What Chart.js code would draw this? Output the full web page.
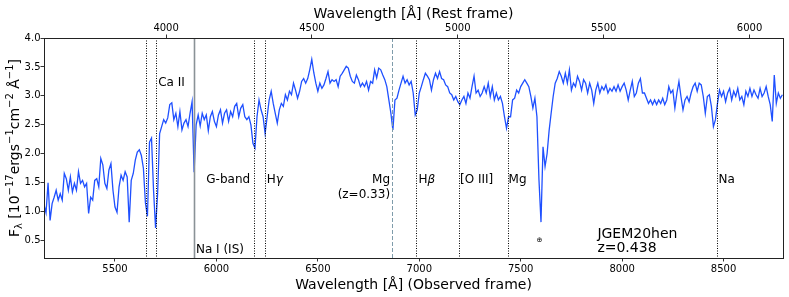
<!DOCTYPE html>
<html><head><meta charset="utf-8">
<script src="https://cdn.jsdelivr.net/npm/chart.js@4.4.0/dist/chart.umd.min.js"></script>
<style>html,body{margin:0;padding:0;background:#fff}</style>
</head><body>
<canvas id="c" width="789" height="297"></canvas>
<script>
const redshift = 0.438;
const xMin = 5150, xMax = 8793, yMin = 0.2, yMax = 4.0;

const wavelength = [
5150,5160,5170,5180,5190,5200,5210,5220,5230,5240,
5250,5260,5270,5280,5290,5300,5310,5320,5330,5340,
5350,5360,5370,5380,5390,5400,5410,5420,5430,5440,
5450,5460,5470,5480,5490,5500,5510,5520,5530,5540,
5550,5560,5570,5580,5590,5600,5610,5620,5630,5640,
5650,5660,5670,5680,5690,5700,5710,5720,5730,5740,
5750,5760,5770,5780,5790,5800,5810,5820,5830,5840,
5850,5860,5870,5880,5890,5900,5910,5920,5930,5940,
5950,5960,5970,5980,5990,6000,6010,6020,6030,6040,
6050,6060,6070,6080,6090,6100,6110,6120,6130,6140,
6150,6160,6170,6180,6190,6200,6210,6220,6230,6240,
6250,6260,6270,6280,6290,6300,6310,6320,6330,6340,
6350,6360,6370,6380,6390,6400,6410,6420,6430,6440,
6450,6460,6470,6480,6490,6500,6510,6520,6530,6540,
6550,6560,6570,6580,6590,6600,6610,6620,6630,6640,
6650,6660,6670,6680,6690,6700,6710,6720,6730,6740,
6750,6760,6770,6780,6790,6800,6810,6820,6830,6840,
6850,6860,6870,6880,6890,6900,6910,6920,6930,6940,
6950,6960,6970,6980,6990,7000,7010,7020,7030,7040,
7050,7060,7070,7080,7090,7100,7110,7120,7130,7140,
7150,7160,7170,7180,7190,7200,7210,7220,7230,7240,
7250,7260,7270,7280,7290,7300,7310,7320,7330,7340,
7350,7360,7370,7380,7390,7400,7410,7420,7430,7440,
7450,7460,7470,7480,7490,7500,7510,7520,7530,7540,
7550,7560,7570,7580,7590,7600,7610,7620,7630,7640,
7650,7660,7670,7680,7690,7700,7710,7720,7730,7740,
7750,7760,7770,7780,7790,7800,7810,7820,7830,7840,
7850,7860,7870,7880,7890,7900,7910,7920,7930,7940,
7950,7960,7970,7980,7990,8000,8010,8020,8030,8040,
8050,8060,8070,8080,8090,8100,8110,8120,8130,8140,
8150,8160,8170,8180,8190,8200,8210,8220,8230,8240,
8250,8260,8270,8280,8290,8300,8310,8320,8330,8340,
8350,8360,8370,8380,8390,8400,8410,8420,8430,8440,
8450,8460,8470,8480,8490,8500,8510,8520,8530,8540,
8550,8560,8570,8580,8590,8600,8610,8620,8630,8640,
8650,8660,8670,8680,8690,8700,8710,8720,8730,8740,
8750,8760,8770,8780,8790
];

const flux = [
1.12,0.98,1.50,0.85,1.14,1.25,1.37,1.20,1.31,1.20,
1.66,1.57,1.37,1.60,1.34,1.49,1.37,1.69,1.49,1.54,
1.43,1.49,0.97,1.25,1.20,1.54,1.57,1.43,1.92,1.81,
1.49,1.40,1.72,1.83,1.37,1.08,0.99,1.43,1.63,1.54,
1.69,1.60,0.82,1.54,1.66,1.89,2.03,2.07,1.97,1.75,
1.15,0.92,2.20,2.27,1.37,0.72,1.30,2.35,2.47,2.59,
2.53,2.62,2.85,2.88,2.59,2.70,2.47,2.73,2.41,2.53,
2.59,2.47,2.70,2.90,1.68,2.50,2.67,2.48,2.70,2.59,
2.67,2.40,2.64,2.73,2.56,2.47,2.67,2.76,2.53,2.70,
2.76,2.56,2.73,2.64,2.82,2.87,2.64,2.79,2.85,2.64,
2.59,2.64,2.50,2.18,2.10,2.64,2.93,2.76,2.64,2.35,
2.64,2.93,3.08,2.87,2.70,2.53,2.76,2.87,2.82,3.02,
2.93,3.08,3.02,3.22,3.10,2.96,3.08,3.25,3.30,3.22,
3.30,3.45,3.63,3.40,3.22,3.08,3.22,3.13,3.19,3.30,
3.42,3.22,3.28,3.25,3.28,3.16,3.34,3.39,3.45,3.51,
3.48,3.34,3.25,3.22,3.36,3.28,3.16,3.22,3.16,3.25,
3.10,3.25,3.22,3.45,3.31,3.48,3.45,3.36,3.28,3.16,
2.93,2.70,2.41,2.93,2.96,3.10,3.22,3.34,3.22,3.28,
3.19,3.25,3.05,2.67,2.76,3.05,3.16,3.28,3.39,3.34,
3.28,3.10,3.28,3.39,3.30,3.42,3.30,3.28,3.19,3.16,
3.05,3.02,2.93,2.99,2.90,2.85,2.93,2.99,2.87,3.05,
2.96,3.16,3.34,3.05,3.10,2.99,3.05,3.16,3.05,3.22,
2.99,3.16,2.93,3.05,2.93,2.99,2.87,2.64,2.44,2.64,
2.64,2.93,2.96,3.10,3.05,3.16,3.22,3.28,3.22,3.16,
2.99,2.79,2.96,2.64,1.55,0.82,2.12,1.78,2.00,2.40,
2.70,2.99,3.22,3.30,3.42,3.34,3.22,3.39,3.22,3.45,
3.10,3.22,3.16,3.34,3.25,3.10,3.28,3.22,3.05,3.22,
3.10,2.87,3.10,3.22,3.05,3.16,3.10,3.19,3.05,3.13,
3.08,3.16,3.08,3.19,3.08,3.16,3.22,3.10,2.93,3.10,
3.25,2.99,3.05,3.22,3.30,3.05,3.05,2.96,2.87,2.93,
2.85,2.93,2.85,2.93,2.87,2.96,2.85,2.93,3.16,3.05,
3.10,2.79,3.05,3.25,2.99,2.76,2.93,2.99,2.90,3.05,
3.16,3.22,3.08,3.22,3.19,2.99,2.70,2.99,3.02,2.82,
2.47,2.59,2.87,3.10,2.99,3.08,2.90,3.05,3.13,2.93,
3.08,2.99,3.13,2.93,2.99,2.85,3.08,2.99,3.13,2.99,
3.10,3.02,2.96,3.13,2.99,3.05,3.16,2.99,2.85,2.56,
3.36,2.87,3.05,2.96,3.02
];

const obsTicks = [5500, 6000, 6500, 7000, 7500, 8000, 8500];
const restTicks = [4000, 4500, 5000, 5500, 6000];
const fluxTicks = [0.5, 1.0, 1.5, 2.0, 2.5, 3.0, 3.5, 4.0];

// vertical marker lines (observed wavelength)
const lineWl   = [5655, 5704, 5889, 6187, 6240, 6866, 6985, 7195, 7436, 8467];
const lineKind = ['dot','dot','solid','dot','dot','dash','dot','dot','dot','dot'];

// annotations
const labelTexts = ['Ca II','G-band','Hγ','Mg','(z=0.33)','Hβ','[O III]','Mg','Na','Na I (IS)','JGEM20hen','z=0.438','⊕'];
const labelWl    = [5713, 6166, 6248, 6856, 6856, 6996, 7201, 7440, 8475, 5899, 7878, 7878, 7592];
const labelFlux  = [3.175, 1.49, 1.49, 1.49, 1.23, 1.49, 1.49, 1.49, 1.49, 0.29, 0.55, 0.30, 0.48];
const labelAlign = ['left','right','left','right','right','left','left','left','left','left','left','left','center'];
const labelSize  = [12,12,12,12,12,12,12,12,12,12,14,14,7];

const FONT = '"DejaVu Sans", sans-serif';

function drawParts(ctx, parts, x, y, align) {
  let w = 0;
  parts.forEach(p => { ctx.font = (p.it ? 'italic ' : '') + p.s + 'px ' + FONT; p.w = ctx.measureText(p.t).width; w += p.w; });
  let cx = align === 'right' ? x - w : align === 'center' ? x - w / 2 : x;
  parts.forEach(p => {
    ctx.font = (p.it ? 'italic ' : '') + p.s + 'px ' + FONT;
    ctx.textAlign = 'left';
    ctx.fillText(p.t, cx, y + (p.dy || 0));
    cx += p.w;
  });
}
function splitGreek(t, s) {
  const parts = [];
  for (const ch of t) {
    const it = 'βγ'.includes(ch);
    const last = parts[parts.length - 1];
    if (last && last.it === it) last.t += ch; else parts.push({t: ch, s: s, it: it});
  }
  return parts;
}

const overlay = {
  id: 'overlay',
  afterDatasetsDraw(chart) {
    const ctx = chart.ctx, xs = chart.scales.x, ys = chart.scales.y, a = chart.chartArea;
    ctx.save();
    ctx.beginPath(); ctx.rect(a.left, a.top, a.right - a.left, a.bottom - a.top); ctx.clip();
    lineWl.forEach((w, i) => {
      const px = Math.round(xs.getPixelForValue(w)) + 0.5;
      ctx.beginPath();
      const k = lineKind[i];
      if (k === 'dot') { ctx.strokeStyle = '#000'; ctx.lineWidth = 1; ctx.setLineDash([1, 1.5]); }
      else if (k === 'solid') { ctx.strokeStyle = '#8a9296'; ctx.lineWidth = 1.6; ctx.setLineDash([]); }
      else { ctx.strokeStyle = '#7f9cab'; ctx.lineWidth = 1; ctx.setLineDash([4, 2]); }
      ctx.moveTo(px, a.top); ctx.lineTo(px, a.bottom); ctx.stroke();
    });
    ctx.restore();
    ctx.save();
    ctx.fillStyle = '#000';
    ctx.textBaseline = 'alphabetic';
    labelTexts.forEach((t, i) => {
      drawParts(ctx, splitGreek(t, labelSize[i]), xs.getPixelForValue(labelWl[i]), ys.getPixelForValue(labelFlux[i]), labelAlign[i]);
    });
    // frame
    ctx.strokeStyle = '#222'; ctx.lineWidth = 1; ctx.setLineDash([]);
    ctx.strokeRect(Math.round(a.left) + 0.5, Math.round(a.top) + 0.5, Math.round(a.right - a.left), Math.round(a.bottom - a.top));
    // axis titles
    const cxm = (a.left + a.right) / 2;
    ctx.font = '14px ' + FONT; ctx.textAlign = 'center';
    ctx.fillText('Wavelength [Å] (Observed frame)', cxm, 288.5);
    ctx.fillText('Wavelength [Å] (Rest frame)', cxm, 18.3);
    // y title
    ctx.translate(19, (a.top + a.bottom) / 2);
    ctx.rotate(-Math.PI / 2);
    drawParts(ctx, [
      {t:'F', s:14}, {t:'λ', s:10, dy:3}, {t:' [10', s:14}, {t:'−17', s:10, dy:-6},
      {t:'ergs', s:14}, {t:'−1', s:10, dy:-6}, {t:'cm', s:14}, {t:'−2', s:10, dy:-6},
      {t:' Å', s:14}, {t:'−1', s:10, dy:-6}, {t:']', s:14}
    ], 0, 0, 'center');
    ctx.restore();
  }
};

const tickFont = {family: 'DejaVu Sans', size: 10};
const gridOpts = {drawOnChartArea: false, drawTicks: true, tickLength: 3.5, color: '#000', lineWidth: 0.8};

new Chart(document.getElementById('c').getContext('2d'), {
  type: 'line',
  data: {
    datasets: [{
      data: wavelength.map((w, i) => ({x: w, y: flux[i]})),
      borderColor: '#1f50ff', borderWidth: 1.3, pointRadius: 0, tension: 0, fill: false,
      xAxisID: 'x', yAxisID: 'y'
    }]
  },
  options: {
    responsive: false, animation: false, devicePixelRatio: 1,
    layout: {padding: {left: 0, right: 6, top: 0, bottom: 0}},
    plugins: {legend: {display: false}, tooltip: {enabled: false}},
    scales: {
      x: {
        type: 'linear', position: 'bottom', min: xMin, max: xMax,
        afterBuildTicks: s => { s.ticks = obsTicks.map(v => ({value: v})); },
        afterFit: s => { s.height = 39; },
        ticks: {font: tickFont, color: '#000', padding: 2, maxRotation: 0, autoSkip: false, callback: v => String(v)},
        grid: gridOpts, border: {display: false}
      },
      x2: {
        type: 'linear', position: 'top', min: xMin / (1 + redshift), max: xMax / (1 + redshift),
        afterBuildTicks: s => { s.ticks = restTicks.map(v => ({value: v})); },
        afterFit: s => { s.height = 38; },
        ticks: {font: tickFont, color: '#000', padding: 0, maxRotation: 0, autoSkip: false, callback: v => String(v)},
        grid: gridOpts, border: {display: false}
      },
      y: {
        type: 'linear', position: 'left', min: yMin, max: yMax,
        afterBuildTicks: s => { s.ticks = fluxTicks.map(v => ({value: v})); },
        afterFit: s => { s.width = 44; },
        ticks: {font: tickFont, color: '#000', padding: 0, autoSkip: false, callback: v => Number(v).toFixed(1)},
        grid: gridOpts, border: {display: false}
      }
    }
  },
  plugins: [overlay]
});
</script>
</body></html>
